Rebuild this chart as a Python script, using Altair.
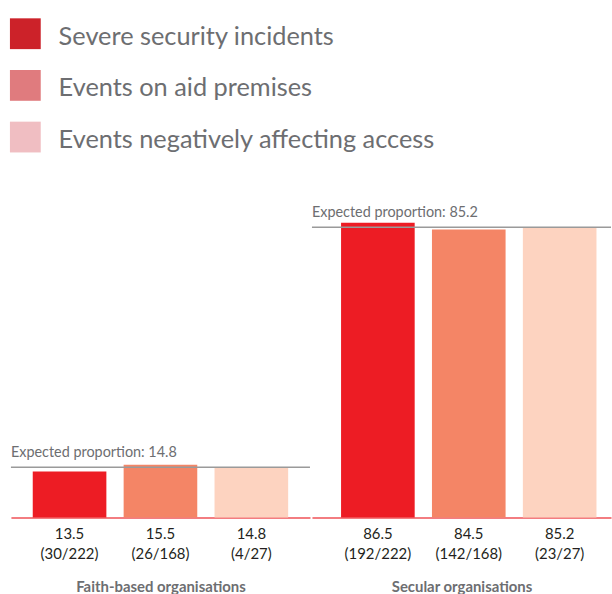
import altair as alt
import pandas as pd

FONT = "Lato"

groups = ["Faith-based organisations", "Secular organisations"]
types = ["Severe security incidents", "Events on aid premises", "Events negatively affecting access"]
faith_values = [13.5, 15.5, 14.8]
faith_counts = ["(30/222)", "(26/168)", "(4/27)"]
secular_values = [86.5, 84.5, 85.2]
secular_counts = ["(192/222)", "(142/168)", "(23/27)"]
expected = [14.8, 85.2]

bar_colors = ["#ed1c24", "#f48566", "#fdd3c0"]
legend_colors = ["#cc2229", "#e07b7e", "#f0bec2"]


def make_df(values, counts, exp):
    return pd.DataFrame({
        "type": types,
        "value": values,
        "label": [f"{v}|{c}" for v, c in zip(values, counts)],
        "exp": [exp] * len(types),
        "exptext": [f"Expected proportion: {exp}"] * len(types),
        "first": [i == 0 for i in range(len(types))],
    })


def panel(df, title, align):
    labels = list(df["label"])
    xscale = alt.Scale(paddingInner=0.19, paddingOuter=0.24, align=align)
    x = alt.X("label:N", sort=labels, scale=xscale,
              axis=alt.Axis(title=title, labelExpr="split(datum.label, '|')"))
    y = alt.Y("value:Q", scale=alt.Scale(domain=[0, 100]), axis=None)
    base = alt.Chart()
    bars = base.mark_bar().encode(
        x=x, y=y,
        color=alt.Color("type:N", scale=alt.Scale(domain=types, range=bar_colors), legend=None),
    )
    rule = base.mark_rule(color="#9a9a9a", strokeWidth=1.5).encode(
        y=alt.Y("exp:Q")).transform_filter("datum.first")
    txt = base.mark_text(align="left", baseline="alphabetic", dy=-10,
                         fontSize=14.5, color="#6d6e71", font=FONT).encode(
        x=alt.value(0), y=alt.Y("exp:Q"), text="exptext:N").transform_filter("datum.first")
    return alt.layer(bars, rule, txt, data=df).properties(width=301, height=343)


legend_df = pd.DataFrame({"type": types})
ly = alt.Y("type:N", sort=types, axis=None,
           scale=alt.Scale(paddingInner=0, paddingOuter=0))
leg_sq = alt.Chart(legend_df).mark_square(size=961, opacity=1).encode(
    x=alt.value(14.5), y=ly,
    color=alt.Color("type:N", scale=alt.Scale(domain=types, range=legend_colors), legend=None),
)
leg_tx = alt.Chart(legend_df).mark_text(align="left", baseline="middle", fontSize=25.5, dy=3,
                                        color="#6d6e71", font=FONT).encode(
    x=alt.value(48), y=ly, text="type:N")
legend = alt.layer(leg_sq, leg_tx).properties(width=602, height=156)

p1 = panel(make_df(faith_values, faith_counts, expected[0]), groups[0], 0.5)
p2 = panel(make_df(secular_values, secular_counts, expected[1]), groups[1], 0.667)

chart = alt.vconcat(legend, alt.hconcat(p1, p2, spacing=0), spacing=14).properties(
    padding={"left": 10, "top": 6, "right": 0, "bottom": 0}
).resolve_scale(color="independent").configure_view(stroke=None).configure_axis(
    domainColor="#ef5257", domainWidth=1.5, ticks=False, grid=False,
    labelFont=FONT, labelFontSize=15, labelColor="#231f20", labelPadding=9,
    labelLineHeight=20, labelAngle=0,
    titleFont=FONT, titleFontSize=15, titleFontWeight="bold", titleColor="#6d6e71",
    titlePadding=18,
)

chart.save("out.html", embed_options={"renderer": "svg", "actions": False})
